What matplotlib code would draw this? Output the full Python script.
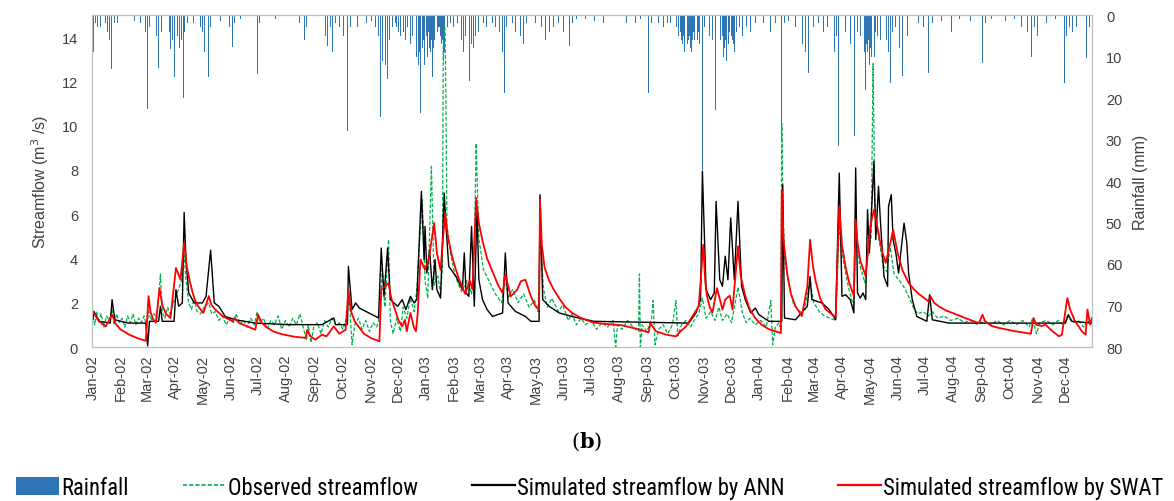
import numpy as np
import matplotlib
matplotlib.use("Agg")
import matplotlib.pyplot as plt
import matplotlib.dates as mdates
from matplotlib.patches import Patch
from matplotlib.lines import Line2D
from matplotlib import font_manager

# daily series, day 0 = 1 Jan 2002
START = np.datetime64("2002-01-01")

# rainfall events (day, mm)
rain = [(1, 9), (3, 2), (5, 3), (8, 3), (10, 2), (14, 2), (16, 4), (18, 6), (20, 13), (22, 3),
        (24, 2), (27, 2), (33, 3), (46, 1.5), (52, 2),
        (58, 4), (60, 22.6), (62, 3), (68, 3), (70, 5), (72, 12.8), (75, 4), (80, 2), (84, 4),
        (85, 8.3), (87, 6), (89, 15), (91, 11), (93, 5), (95, 8), (97, 6), (99, 20), (100, 4),
        (104, 2), (110, 2), (118, 3), (120, 4), (122, 9), (125, 5), (127, 15), (129, 3), (140, 1.5),
        (150, 3), (153, 7.8), (155, 2), (162, 1), (171, 1.5), (180, 14.2), (183, 2), (200, 1),
        (215, 1.5), (226, 2), (232, 6), (234, 3), (240, 1), (250, 3), (255, 5), (257, 7.5), (260, 3),
        (263, 9), (266, 2), (270, 3), (275, 5), (279, 28), (282, 3), (285, 5), (290, 3), (295, 2),
        (300, 2), (305, 1.5), (310, 3), (313, 5), (315, 24.5), (317, 11), (319, 7), (321, 12),
        (323, 15.5), (325, 6), (328, 3), (332, 2), (333, 3), (335, 4), (337, 5), (340, 4), (343, 6),
        (345, 3), (348, 7), (350, 5), (352, 4), (355, 10), (357, 12), (358, 9), (359, 23.6),
        (361, 8), (362, 6), (363, 12), (365, 7), (366, 5), (367, 10), (368, 4), (369, 8), (370, 9),
        (371, 6), (372, 15), (373, 8), (374, 6), (375, 5), (376, 3), (377, 7), (378, 4), (379, 3),
        (380, 3), (381, 5), (382, 7), (383, 6), (384, 11), (385, 9), (386, 8), (387, 5), (388, 4),
        (389, 3), (392, 2), (395, 3), (400, 2), (404, 6), (406, 9), (408, 5), (410, 12), (413, 16),
        (415, 7), (417, 8), (419, 5), (421, 22.8), (423, 4), (428, 2), (431, 3), (438, 2), (441, 3),
        (446, 4), (449, 9), (451, 18.8), (453, 3), (460, 2), (463, 4), (466, 6), (469, 5), (472, 7),
        (475, 2), (479, 3), (485, 2), (489, 36.5), (492, 3), (496, 6), (500, 4), (505, 3), (510, 2),
        (516, 4), (522, 7.5), (526, 2), (530, 1), (540, 1), (550, 1.5), (560, 2), (570, 1), (585, 2),
        (595, 2), (600, 1), (605, 3), (609, 18.8), (612, 2), (620, 2), (625, 3), (630, 2), (633, 2),
        (638, 4), (640, 3), (642, 5), (644, 4), (645, 6), (646, 7), (647, 5), (648, 9), (649, 8),
        (650, 6), (651, 10.8), (652, 7), (653, 6), (654, 5), (655, 8), (656, 9), (657, 6), (658, 4),
        (659, 6), (660, 5), (661, 8), (662, 10), (663, 6), (664, 4), (665, 7), (668, 37.3),
        (670, 3), (673, 3), (676, 5), (679, 6), (682, 22.8), (685, 4), (688, 6), (690, 5), (691, 10),
        (692, 8), (693, 6), (694, 11), (695, 9), (696, 5), (697, 7), (698, 4), (700, 5), (701, 6),
        (702, 7), (703, 9), (705, 4), (707, 18.8), (709, 3), (712, 5), (716, 3), (721, 4), (726, 2),
        (735, 2), (743, 4), (748, 2), (755, 30), (758, 2), (762, 1.5), (770, 3), (775, 4), (778, 7),
        (781, 9), (784, 14), (787, 4), (790, 3), (795, 2), (801, 4), (805, 3), (810, 6), (813, 9),
        (815, 5), (817, 31.6), (820, 3), (825, 4), (830, 7), (833, 4), (835, 29.2), (838, 4),
        (841, 5), (843, 6), (844, 8), (845, 5), (846, 9), (847, 18), (848, 7), (849, 9), (850, 6),
        (851, 12), (852, 8), (853, 10), (854, 14), (855, 6), (856, 8), (857, 10), (858, 4), (860, 5),
        (863, 6), (866, 3), (870, 6), (872, 9), (874, 16.4), (876, 4), (880, 3), (884, 8),
        (887, 14.8), (890, 4), (893, 5), (900, 2), (905, 2), (910, 3), (916, 14), (920, 2),
        (930, 1.5), (941, 4), (950, 1), (962, 1.5), (975, 11.6), (978, 2), (985, 1), (1000, 1.5),
        (1010, 1), (1018, 3), (1024, 4), (1026, 6), (1029, 10), (1032, 3), (1035, 5), (1045, 2),
        (1055, 1), (1062, 3), (1065, 16.4), (1067, 5), (1070, 3), (1074, 4), (1078, 3), (1083, 2),
        (1089, 10.4), (1092, 3)]

# observed streamflow (day, m3/s)
observed = [(0, 1.4), (2, 1.0), (4, 1.6), (6, 1.1), (9, 1.5), (12, 0.9), (15, 1.4), (18, 1.2),
            (21, 1.7), (23, 1.0), (26, 1.5), (29, 1.1), (32, 1.3), (35, 0.9), (38, 1.4), (41, 1.1),
            (44, 1.5), (47, 1.0), (50, 1.3), (53, 1.1), (56, 1.4), (59, 0.9), (61, 1.6), (64, 1.2),
            (67, 1.5), (70, 1.3), (72, 2.2), (74, 3.3), (76, 1.6), (79, 1.3), (82, 1.8), (85, 1.4),
            (88, 2.0), (91, 2.3), (94, 2.6), (97, 3.0), (100, 4.2), (102, 3.0), (105, 2.0),
            (108, 1.7), (111, 2.2), (114, 1.6), (118, 1.5), (122, 1.8), (127, 2.0), (130, 1.5),
            (134, 1.6), (138, 1.2), (142, 1.4), (146, 1.0), (150, 1.3), (154, 1.1), (157, 1.5),
            (161, 1.0), (165, 1.2), (169, 0.9), (173, 1.3), (177, 1.0), (180, 1.6), (183, 1.1),
            (187, 1.3), (191, 0.8), (195, 1.2), (199, 1.0), (203, 1.4), (207, 0.8), (211, 1.2),
            (215, 0.9), (219, 1.3), (223, 1.0), (227, 1.5), (231, 0.8), (234, 0.3), (236, 1.0),
            (239, 0.2), (242, 0.9), (246, 1.1), (250, 0.6), (254, 1.2), (258, 0.9), (262, 1.3),
            (266, 1.0), (270, 1.1), (274, 0.8), (278, 1.3), (281, 2.2), (284, 0.1), (287, 1.0),
            (291, 1.3), (295, 0.8), (299, 1.2), (303, 0.7), (307, 1.1), (311, 0.9), (315, 1.5),
            (317, 3.6), (320, 1.8), (324, 4.85), (326, 1.2), (329, 0.6), (333, 1.3), (337, 0.7),
            (340, 1.8), (344, 1.3), (348, 2.2), (352, 1.6), (355, 2.6), (357, 4.1), (361, 6.66),
            (364, 3.0), (367, 2.2), (371, 8.16), (374, 2.8), (378, 3.2), (381, 2.4), (383, 3.5),
            (384, 13.6), (385, 14.6), (386, 14.3), (387, 10.6), (388, 5.5), (392, 4.2), (397, 3.2),
            (404, 2.5), (410, 3.0), (415, 2.4), (418, 4.2), (420, 9.2), (423, 4.9), (428, 3.5),
            (434, 3.0), (441, 2.4), (448, 2.0), (452, 3.2), (455, 2.2), (460, 2.6), (466, 2.0),
            (472, 2.4), (478, 1.8), (484, 2.1), (488, 1.6), (490, 4.85), (494, 2.6), (498, 1.8),
            (503, 2.2), (510, 1.6), (515, 1.9), (521, 1.2), (525, 1.5), (530, 1.0), (535, 1.3),
            (540, 1.0), (546, 1.2), (552, 0.8), (558, 1.1), (564, 0.9), (570, 1.2), (573, 0.0),
            (575, 1.0), (580, 0.8), (586, 1.2), (592, 0.9), (598, 0.7), (599, 3.3), (600, 0.0),
            (602, 1.0), (607, 0.7), (612, 1.2), (614, 2.1), (616, 0.1), (620, 0.8), (625, 1.0),
            (630, 0.6), (635, 1.0), (639, 2.1), (641, 0.5), (645, 1.0), (650, 1.2), (655, 0.9),
            (660, 1.3), (664, 1.5), (668, 2.2), (672, 1.3), (677, 1.6), (682, 1.2), (686, 1.8),
            (690, 1.2), (695, 1.5), (700, 1.1), (707, 2.7), (712, 1.5), (716, 1.1), (720, 1.3),
            (726, 1.0), (732, 1.2), (738, 0.9), (743, 2.1), (745, 0.1), (748, 0.9), (752, 1.1),
            (754, 0.8), (755, 10.1), (756, 7.0), (758, 4.0), (762, 3.0), (768, 1.9), (775, 1.6),
            (780, 1.7), (786, 3.0), (790, 2.0), (796, 1.6), (802, 1.4), (808, 1.3), (814, 1.2),
            (818, 5.5), (822, 4.0), (828, 2.7), (834, 1.8), (836, 5.7), (840, 3.8), (846, 2.9),
            (850, 4.4), (853, 5.0), (855, 12.8), (857, 6.5), (861, 5.0), (866, 3.7), (870, 3.4),
            (874, 4.5), (878, 3.3), (884, 3.0), (889, 2.7), (895, 2.2), (899, 1.8), (904, 1.5),
            (910, 1.6), (916, 1.4), (920, 1.6), (926, 1.3), (933, 1.4), (940, 1.2), (948, 1.3),
            (955, 1.1), (962, 1.2), (970, 1.0), (977, 1.2), (984, 1.0), (991, 1.2), (998, 1.0),
            (1005, 1.2), (1012, 1.0), (1019, 1.2), (1026, 0.9), (1030, 1.3), (1034, 0.6),
            (1038, 1.1), (1045, 1.2), (1052, 1.0), (1058, 1.2), (1064, 1.0), (1068, 1.4),
            (1074, 1.1), (1080, 1.2), (1086, 0.9), (1090, 1.2), (1095, 1.0)]

# simulated by ANN
ann = [(0, 1.23), (1, 1.61), (7, 1.16), (19, 1.08), (21, 2.14), (24, 1.23), (39, 1.08), (58, 1.08),
       (60, 0.05), (62, 1.16), (72, 1.16), (74, 1.84), (76, 1.16), (89, 1.16), (91, 2.59),
       (94, 1.84), (98, 1.99), (100, 6.08), (102, 3.95), (105, 2.44), (111, 1.99), (120, 1.99),
       (124, 2.29), (129, 4.37), (133, 1.99), (138, 1.84), (145, 1.38), (156, 1.23), (178, 1.08),
       (215, 1.01), (251, 1.01), (264, 1.31), (266, 1.01), (279, 1.01), (280, 3.64), (284, 1.69),
       (288, 1.99), (292, 1.76), (299, 1.61), (310, 1.38), (313, 1.31), (316, 4.47), (319, 2.29),
       (323, 4.47), (326, 2.14), (334, 1.84), (339, 2.14), (343, 1.69), (348, 2.29), (352, 1.99),
       (355, 2.14), (360, 7.03), (363, 3.95), (364, 5.45), (366, 3.34), (369, 4.4), (372, 2.59),
       (375, 3.95), (377, 2.59), (381, 2.21), (385, 6.96), (387, 5.45), (390, 3.64), (398, 3.19),
       (405, 2.59), (407, 4.25), (409, 2.44), (412, 2.29), (415, 5.45), (418, 1.84), (421, 6.2),
       (423, 3.04), (427, 2.14), (432, 1.69), (438, 1.38), (449, 1.54), (452, 4.25), (455, 1.99),
       (463, 1.61), (474, 1.38), (480, 1.16), (489, 1.16), (490, 6.88), (493, 2.14), (500, 1.84),
       (511, 1.54), (525, 1.38), (549, 1.16), (653, 1.08), (661, 1.54), (666, 2.14), (668, 7.94),
       (672, 2.59), (677, 2.14), (681, 2.44), (683, 6.58), (687, 3.04), (690, 2.74), (693, 4.1),
       (696, 3.04), (699, 5.83), (703, 3.04), (707, 6.58), (711, 2.74), (715, 2.14), (721, 1.54),
       (726, 1.76), (730, 1.46), (741, 1.16), (755, 1.16), (756, 7.33), (758, 1.31), (770, 1.23),
       (783, 1.84), (786, 3.19), (788, 2.14), (799, 1.99), (807, 1.69), (814, 1.23), (818, 7.86),
       (821, 2.29), (825, 2.36), (830, 2.14), (834, 1.54), (836, 8.09), (838, 2.44), (841, 2.21),
       (844, 2.44), (847, 2.14), (849, 6.2), (851, 4.25), (854, 6.66), (856, 8.39), (858, 4.85),
       (861, 7.26), (863, 5.75), (867, 3.19), (871, 2.74), (872, 6.36), (875, 6.88), (877, 4.85),
       (880, 4.25), (883, 3.34), (889, 5.6), (892, 4.7), (894, 3.34), (898, 2.14), (903, 1.38),
       (914, 1.16), (917, 2.36), (920, 1.23), (938, 1.08), (1066, 1.08), (1069, 1.46),
       (1073, 1.16), (1095, 1.08)]

# simulated by SWAT
swat = [(0, 1.6), (5, 1.25), (10, 1.05), (14, 0.93), (21, 1.46), (25, 1.05), (30, 0.8),
        (40, 0.55), (50, 0.38), (58, 0.28), (61, 2.3), (63, 1.6), (66, 1.25), (69, 1.1), (73, 2.66),
        (76, 1.9), (80, 1.5), (85, 1.31), (91, 3.57), (96, 3.05), (100, 4.7), (103, 3.6),
        (106, 3.0), (109, 2.5), (112, 2.1), (116, 1.8), (121, 1.54), (127, 2.3), (130, 1.9),
        (134, 1.7), (142, 1.4), (153, 1.16), (155, 1.31), (160, 1.1), (165, 1.0), (178, 0.78),
        (181, 1.46), (185, 1.1), (190, 0.9), (198, 0.7), (207, 0.58), (220, 0.47), (233, 0.41),
        (235, 0.78), (238, 0.5), (244, 0.33), (251, 0.56), (256, 0.48), (264, 0.93), (270, 0.6),
        (277, 0.78), (280, 2.59), (283, 1.6), (287, 1.15), (291, 0.93), (297, 0.6), (305, 0.4),
        (314, 0.26), (316, 2.59), (324, 2.89), (327, 2.2), (331, 1.7), (335, 1.2), (339, 0.93),
        (342, 1.23), (344, 0.71), (348, 1.54), (352, 0.86), (354, 0.71), (356, 1.54), (359, 3.95),
        (364, 3.49), (368, 3.95), (374, 5.6), (377, 4.25), (381, 3.49), (386, 6.05), (389, 5.0),
        (393, 4.2), (397, 3.6), (401, 3.1), (408, 2.4), (413, 3.0), (416, 2.6), (420, 6.73),
        (423, 5.6), (427, 4.8), (432, 4.0), (438, 3.4), (444, 2.8), (449, 2.44), (452, 3.27),
        (458, 2.29), (465, 2.59), (469, 2.97), (474, 3.04), (480, 2.29), (485, 1.84), (489, 1.7),
        (490, 6.66), (492, 4.6), (495, 3.6), (500, 3.0), (505, 2.6), (511, 2.2), (518, 1.8),
        (525, 1.55), (533, 1.35), (540, 1.23), (549, 1.1), (560, 1.05), (580, 0.98), (598, 0.8),
        (609, 0.66), (611, 1.08), (617, 0.71), (628, 0.56), (639, 0.48), (644, 0.71), (650, 0.93),
        (657, 1.38), (664, 1.84), (669, 4.62), (671, 3.0), (673, 2.3), (676, 1.8), (679, 1.55),
        (684, 2.66), (690, 1.69), (693, 2.14), (698, 2.32), (701, 1.69), (707, 4.55), (710, 3.2),
        (715, 2.3), (720, 1.7), (726, 1.3), (733, 1.0), (741, 0.8), (754, 0.63), (755, 7.11),
        (757, 4.8), (761, 3.3), (765, 2.4), (770, 1.84), (777, 1.4), (783, 2.74), (786, 4.85),
        (789, 3.7), (792, 3.0), (797, 2.2), (803, 1.7), (814, 1.35), (818, 6.36), (821, 4.6),
        (825, 3.6), (829, 2.9), (834, 2.3), (836, 5.75), (838, 4.7), (841, 3.9), (847, 3.2),
        (852, 5.45), (856, 6.2), (861, 5.15), (865, 4.3), (869, 3.8), (874, 4.7), (877, 5.3),
        (882, 4.25), (887, 3.49), (894, 2.9), (900, 2.6), (905, 2.4), (916, 2.06), (918, 2.29),
        (922, 2.0), (927, 1.84), (935, 1.65), (942, 1.54), (956, 1.31), (971, 1.08), (975, 1.46),
        (978, 1.15), (985, 0.95), (993, 0.86), (1011, 0.71), (1028, 0.6), (1031, 1.31),
        (1034, 1.0), (1040, 0.95), (1044, 1.01), (1052, 0.7), (1059, 0.48), (1062, 0.56),
        (1068, 2.21), (1071, 1.7), (1076, 1.2), (1084, 0.7), (1088, 0.56), (1090, 1.69),
        (1093, 1.01), (1095, 1.31)]

labels = ["Rainfall", "Observed streamflow", "Simulated streamflow by ANN",
          "Simulated streamflow by SWAT"]


def to_dates(series):
    d, v = zip(*series)
    return START + np.array(d, dtype="timedelta64[D]"), np.array(v, dtype=float)


available = {f.name for f in font_manager.fontManager.ttflist}
tick_font = "Liberation Sans" if "Liberation Sans" in available else "DejaVu Sans"
if "Roboto Condensed" in available:
    legend_font, legend_size = "Roboto Condensed", 16.3
elif "Roboto" in available:
    legend_font, legend_size = "Roboto", 14
else:
    legend_font, legend_size = "DejaVu Sans", 12

rain_col = "#2E75B6"
obs_col = "#00B050"
ann_col = "#000000"
swat_col = "#FF0000"
grid_col = "#BFBFBF"
text_col = "#404040"

fig = plt.figure(figsize=(11.74, 5.02), dpi=100)
ax = fig.add_axes([92 / 1174, 1 - 348 / 502, 1000 / 1174, 332 / 502])
ax2 = ax.twinx()

# rainfall hanging from the top
rd, rv = to_dates(rain)
ax2.bar(rd, rv, width=0.85, color=rain_col, linewidth=0, align="center")
ax2.set_ylim(80, 0)
ax2.set_yticks(np.arange(0, 81, 10))

od, ov = to_dates(observed)
ad, av = to_dates(ann)
sd, sv = to_dates(swat)
ax.plot(od, ov, color=obs_col, lw=0.9, ls=(0, (3, 1.5)))
ax.plot(ad, av, color=ann_col, lw=1.0)
ax.plot(sd, sv, color=swat_col, lw=1.3)

ax.set_zorder(ax2.get_zorder() + 1)
ax.patch.set_visible(False)

ax.set_ylim(0, 15)
ax.set_yticks(np.arange(0, 15, 2))
ax.set_xlim(START - np.timedelta64(1, "D"), START + np.timedelta64(1095, "D"))
ax.xaxis.set_major_locator(mdates.MonthLocator())
ax.xaxis.set_major_formatter(mdates.DateFormatter("%b-%y"))

for a in (ax, ax2):
    for s in a.spines.values():
        s.set_color(grid_col)
        s.set_linewidth(0.8)
    a.tick_params(length=0, colors=text_col, labelsize=10.5)
    for lab in a.get_yticklabels():
        lab.set_fontfamily(tick_font)
ax.tick_params(axis="x", pad=5, labelsize=10.5)
ax.tick_params(axis="y", pad=10)
ax2.tick_params(axis="y", pad=10)
for lab in ax.get_xticklabels():
    lab.set_rotation(90)
    lab.set_fontfamily(tick_font)

ax.set_ylabel("Streamflow (m$^3$ /s)", fontsize=11.5, color=text_col, family=tick_font,
              labelpad=8)
ax2.set_ylabel("Rainfall (mm)", fontsize=11.5, color=text_col, family=tick_font, labelpad=8)

fig.text(0.5, 1 - 442 / 502, r"($\mathbf{b}$)", ha="center", va="center", fontsize=15,
         family="DejaVu Serif", math_fontfamily="dejavuserif")

handles = [Patch(facecolor=rain_col, edgecolor="none"),
           Line2D([], [], color=obs_col, lw=1.2, ls=(0, (2.5, 1.2))),
           Line2D([], [], color=ann_col, lw=1.6),
           Line2D([], [], color=swat_col, lw=1.6)]
fig.legend(handles, labels, loc="lower left", ncol=4, mode="expand",
           bbox_to_anchor=(14 / 1174, 0.0, 1152 / 1174, 0.06), frameon=False,
           prop={"family": legend_font, "size": legend_size}, handlelength=1.9,
           handleheight=0.85, handletextpad=0.1, borderaxespad=0, borderpad=0.1)

fig.savefig("out.png", dpi=100)
